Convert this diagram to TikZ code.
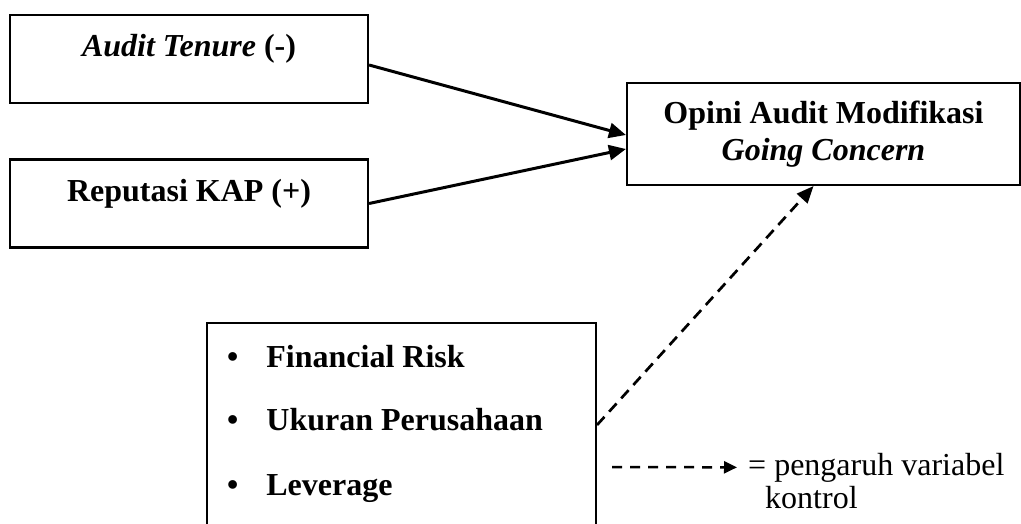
\documentclass[tikz,border=0pt]{standalone}
\usepackage{fontspec}
\setmainfont{Liberation Serif}
\usetikzlibrary{positioning,arrows.meta}
\tikzset{
    varbox/.style={draw, line width=2.1pt, inner sep=0pt, minimum width=358pt, minimum height=88pt, text height=42pt, text depth=46pt, font=\fontsize{32pt}{37pt}\selectfont\bfseries},
    depbox/.style={draw, line width=2.1pt, align=center, minimum width=393pt, minimum height=102pt, font=\fontsize{32pt}{37pt}\selectfont\bfseries},
    ctrlbox/.style={draw, line width=2.1pt, minimum width=389pt, minimum height=222pt},
    ctrlitem/.style={inner sep=0pt, font=\fontsize{32pt}{37pt}\selectfont\bfseries},
    legtext/.style={inner sep=0pt, font=\fontsize{32pt}{33pt}\selectfont},
    effarrow/.style={draw, line width=3pt, -{Triangle[length=17pt,width=15pt]}},
    ctrlarrow/.style={draw, line width=2.7pt, dash pattern=on 11pt off 7pt, -{Triangle[length=17pt,width=14pt]}},
    legarrow/.style={draw, line width=2.5pt, dash pattern=on 10pt off 8pt, -{Triangle[length=13pt,width=12pt]}}
}
\begin{document}
\begin{tikzpicture}[x=1pt, y=1pt]
    \useasboundingbox (0,0) rectangle (1021,-524);

    \node[varbox] (tenure) at (189,-59) {\textit{Audit Tenure} (-)};
    \node[varbox] (kap) at (189,-203.5) {Reputasi KAP (+)};
    \node[depbox] (opini) at (823.5,-134) {Opini Audit Modifikasi\\\textit{Going Concern}};
    \node[ctrlbox] (kontrol) at (401.5,-434) {};

    \node[ctrlitem, anchor=base west] (risk) at (227,-367) {\textbullet\hspace{28pt}Financial Risk};
    \node[ctrlitem, anchor=base west] (ukuran) at (227,-430) {\textbullet\hspace{28pt}Ukuran Perusahaan};
    \node[ctrlitem, anchor=base west] (lev) at (227,-495) {\textbullet\hspace{28pt}Leverage};

    \draw[effarrow] ([yshift=-6pt]tenure.east) -- ([yshift=-1pt]opini.west);
    \draw[effarrow] (kap.east) -- ([yshift=-15pt]opini.west);
    \draw[ctrlarrow] ([yshift=9pt]kontrol.east) -- ([xshift=-10pt]opini.south);

    % keterangan
    \node[legtext, anchor=base west] (legket) at (748,-475) {= pengaruh variabel};
    \node[legtext, anchor=base west] (legkontrol) at (765,-508) {kontrol};
    \coordinate (legfrom) at (612,-467);
    \draw[legarrow] (legfrom) -- ([xshift=-11pt]legket.west);
\end{tikzpicture}
\end{document}
